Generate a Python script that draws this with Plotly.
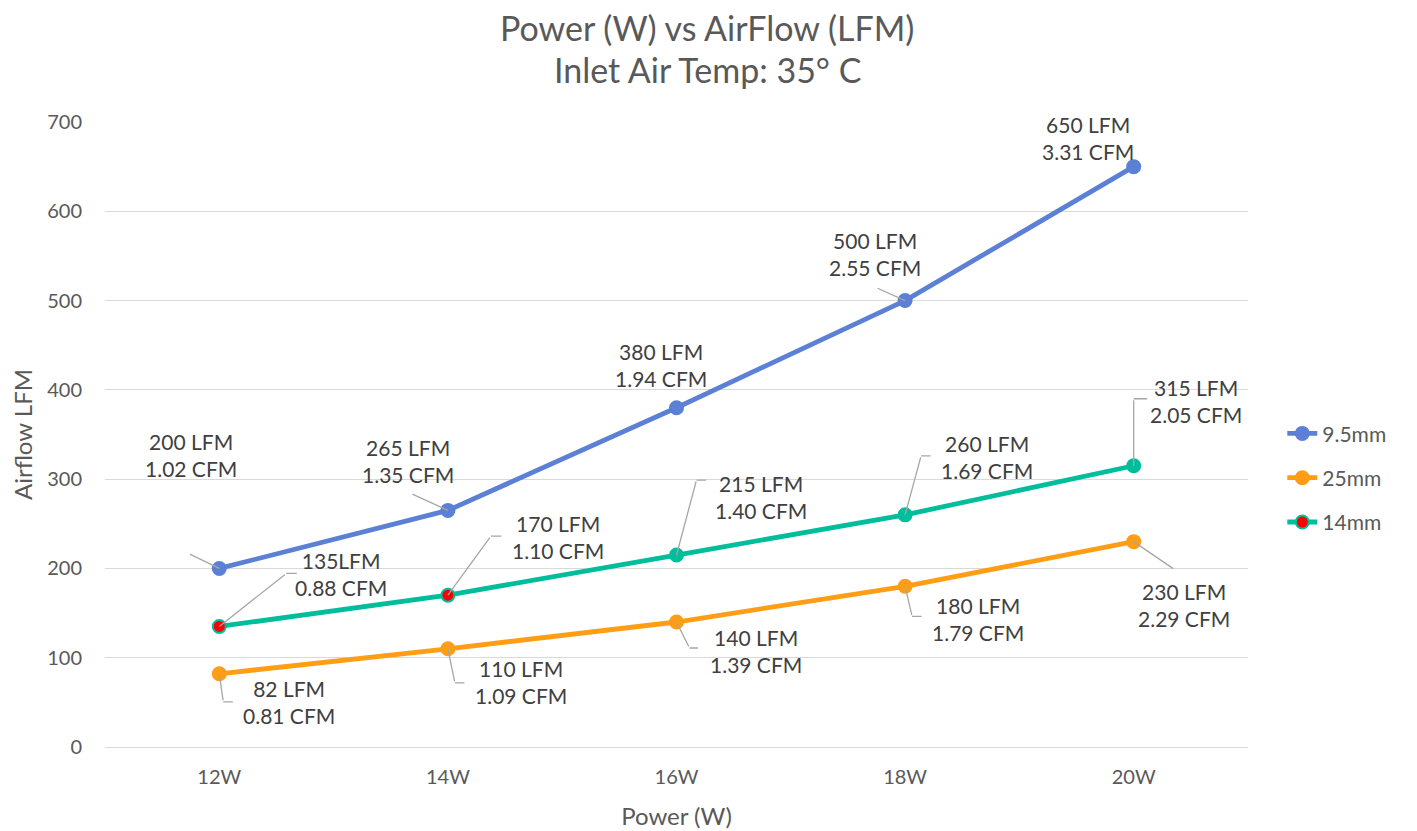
import plotly.graph_objects as go

power = ["12W", "14W", "16W", "18W", "20W"]

lfm_95 = [200, 265, 380, 500, 650]
cfm_95 = ["1.02", "1.35", "1.94", "2.55", "3.31"]
lfm_25 = [82, 110, 140, 180, 230]
cfm_25 = ["0.81", "1.09", "1.39", "1.79", "2.29"]
lfm_14 = [135, 170, 215, 260, 315]
cfm_14 = ["0.88", "1.10", "1.40", "1.69", "2.05"]

lfm_sep_14 = [False, True, True, True, True]  # first label reads "135LFM"

title_lines = ["Power (W) vs AirFlow (LFM)", "Inlet Air Temp: 35° C"]

colors = {"9.5mm": "#5B80D6", "25mm": "#FF9E15", "14mm": "#00BE9B"}

# label centre offsets (pixels, right/down) from point
off_95 = [(-28, -113), (-40, -49), (-16, -43), (-30, -47), (-46, -29)]
off_25 = [(70, 28), (73, 33), (79, 29), (73, 33), (50, 63)]
off_14 = [(122, -52), (110, -58), (84, -58), (82, -58), (62, -65)]
# leader lines: (corner dx, corner dy, horizontal length) or None
lead_95 = [(-31, -15, 0), (-37, -17, 0), None, (-29, -13, 0), None]
lead_25 = [(4, 28, 11), (7, 34, 11), (13, 26, 10), (7, 30, 11), (41, 28, 0)]
lead_14 = [(67, -53, 12), (43, -59, 12), (20, -75, 11), (16, -59, 11), (0, -67, 15)]

FONT = "Lato"
TXT = "#595959"
LBL = "#404040"
LEAD = "#A6A6A6"

fig = go.Figure()

def add_series(name, ys, marker_colors=None):
    c = colors[name]
    fig.add_trace(go.Scatter(
        x=power, y=ys, mode="lines+markers", name=name,
        legendgroup=name,
        line=dict(color=c, width=4.8),
        marker=dict(size=13, color=marker_colors if marker_colors else c,
                    line=dict(color=c, width=2)),
    ))

add_series("9.5mm", lfm_95)
add_series("25mm", lfm_25)
add_series("14mm", lfm_14, marker_colors=["#FF0000", "#FF0000", colors["14mm"], colors["14mm"], colors["14mm"]])

def add_labels(ys, cfms, offs, leads, seps=None):
    for i, (x, y, cf, (dx, dy), ld) in enumerate(zip(power, ys, cfms, offs, leads)):
        sep = " " if (seps is None or seps[i]) else ""
        text = f"{y}{sep}LFM<br>{cf} CFM"
        if ld is not None:
            cx, cy, hl = ld
            fig.add_annotation(x=x, y=y, text="", showarrow=True, arrowhead=0,
                               arrowwidth=1.3, arrowcolor=LEAD, ax=cx, ay=cy, standoff=0)
            if hl:
                fig.add_annotation(x=x, y=y, text="", showarrow=True, arrowhead=0,
                                   arrowwidth=1.3, arrowcolor=LEAD, ax=hl, ay=0.001,
                                   xshift=cx, yshift=-cy, standoff=0)
        fig.add_annotation(x=x, y=y, text=text, showarrow=False,
                           xshift=dx, yshift=-dy,
                           font=dict(family=FONT, size=21, color=LBL))

add_labels(lfm_95, cfm_95, off_95, lead_95)
add_labels(lfm_14, cfm_14, off_14, lead_14, seps=lfm_sep_14)
add_labels(lfm_25, cfm_25, off_25, lead_25)

# chart title: one annotation per line above the plot area
for line_text, ty in zip(title_lines, [1.151, 1.0848]):
    fig.add_annotation(xref="paper", yref="paper", x=0.527, y=ty,
                       xanchor="center", yanchor="middle", showarrow=False,
                       borderpad=0, text=line_text,
                       font=dict(family=FONT, size=34, color=TXT))

fig.update_layout(
    width=1409, height=823,
    paper_bgcolor="white", plot_bgcolor="white",
    margin=dict(l=97, r=169, t=114, b=84),
    font=dict(family=FONT, color=TXT, size=20),
    legend=dict(x=1.03, xanchor="left", y=0.534, yanchor="top",
                font=dict(family=FONT, size=21, color=TXT),
                tracegroupgap=14, traceorder="grouped",
                bgcolor="rgba(0,0,0,0)"),
    showlegend=True,
)

fig.update_xaxes(
    type="category", range=[-0.5, 4.5], showgrid=False, showline=False, ticks="",
    automargin=False,
    tickfont=dict(family=FONT, size=20, color=TXT),
    title=dict(text="Power (W)", font=dict(family=FONT, size=24, color=TXT), standoff=21),
    ticklabelstandoff=16,
)
fig.update_yaxes(
    range=[0, 700], dtick=100, showgrid=True, gridcolor="#D9D9D9", gridwidth=1.3,
    zeroline=True, zerolinecolor="#D9D9D9", zerolinewidth=1.3, showline=False, ticks="",
    automargin=False,
    tickfont=dict(family=FONT, size=20, color=TXT),
    title=dict(text="Airflow LFM", font=dict(family=FONT, size=24, color=TXT), standoff=12),
    ticklabelstandoff=22,
)

fig.write_html("out.html")
